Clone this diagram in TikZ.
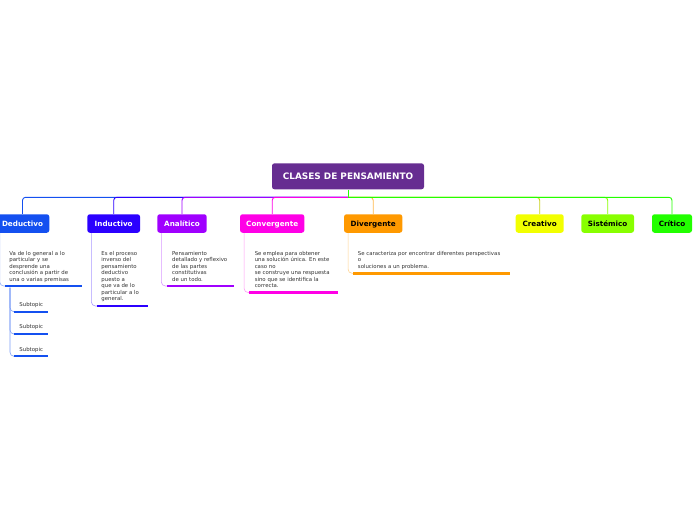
\documentclass[tikz,border=0pt]{standalone}
\usepackage{fontspec}
\setmainfont{DejaVu Sans}
\usetikzlibrary{positioning}

\definecolor{cRoot}{HTML}{662D91}
\definecolor{cDed}{HTML}{1450F0}
\definecolor{cInd}{HTML}{2B00FF}
\definecolor{cAna}{HTML}{A000FF}
\definecolor{cCon}{HTML}{FF00E6}
\definecolor{cDiv}{HTML}{FF9900}
\definecolor{cCre}{HTML}{F2FF00}
\definecolor{cSis}{HTML}{88FF00}
\definecolor{cCri}{HTML}{22FF00}

\begin{document}
\begin{tikzpicture}[x=1pt,y=-1pt,line width=0.9pt]
\tikzstyle{every node}=[inner sep=0pt]
\tikzstyle{topic}=[rounded corners=2.5pt,minimum height=18.5pt,text height=5.2pt,text depth=0pt,font=\fontsize{7.2}{8}\selectfont\bfseries,text=white]
\tikzstyle{note}=[anchor=north west,align=left,font=\fontsize{5.4}{6.5}\selectfont,text=black!80]
\tikzstyle{bar}=[line width=2.8pt]
\tikzstyle{stem}=[line width=0.6pt,rounded corners=4pt]
\tikzstyle{link}=[rounded corners=3pt]

\useasboundingbox (0,0) rectangle (696,520);

% main topic and the bus under it
\node[topic,fill=cRoot,minimum width=152pt,minimum height=26pt,text height=6.4pt,font=\fontsize{8.9}{10}\selectfont\bfseries] (CP) at (348,176.3) {CLASES DE PENSAMIENTO};
\coordinate (bus) at (348,197.3);

% the eight kinds
\node[topic,fill=cDed,minimum width=53.6pt] (DED) at (22.5,223.5) {Deductivo};
\node[topic,fill=cInd,minimum width=52.7pt] (IND) at (113.7,223.5) {Inductivo};
\node[topic,fill=cAna,minimum width=49.4pt] (ANA) at (182,223.5) {Analítico};
\node[topic,fill=cCon,minimum width=64.3pt] (CON) at (272.2,223.5) {Convergente};
\node[topic,fill=cDiv,text=black,minimum width=58.3pt] (DIV) at (373.2,223.5) {Divergente};
\node[topic,fill=cCre,text=black,minimum width=48pt] (CRE) at (539.7,223.5) {Creativo};
\node[topic,fill=cSis,text=black,minimum width=52.7pt] (SIS) at (607.7,223.5) {Sistémico};
\node[topic,fill=cCri,text=black,minimum width=40pt] (CRI) at (672,223.5) {Crítico};

\draw[cCri] (CP.south) -- (bus);
\draw[link,cDed] (bus) -| (DED.north);
\draw[link,cInd] (bus) -| (IND.north);
\draw[link,cAna] (bus) -| (ANA.north);
\draw[link,cCon] (bus) -| (CON.north);
\draw[link,cDiv!70] (bus) -| (DIV.north);
\draw[link,cCre!80!black!90] (bus) -| (CRE.north);
\draw[link,cSis] (bus) -| (SIS.north);
\draw[link,cCri] (bus) -| (CRI.north);

% notes under the kinds
\node[note] (DEDt) at (9,250.8) {Va de lo general a lo\\particular y se\\desprende una\\conclusión a partir de\\una o varias premisas};
\coordinate (DEDl) at (5,286); \coordinate (DEDr) at (82,286);
\draw[stem,cDed!45] ([xshift=4.5pt]DED.south west) |- (DEDl);
\draw[bar,cDed] (DEDl) -- (DEDr);

\node[note] (INDt) at (101,250.8) {Es el proceso\\inverso del\\pensamiento\\deductivo\\puesto a\\que va de lo\\particular a lo\\general.};
\coordinate (INDl) at (97,306); \coordinate (INDr) at (148,306);
\draw[stem,cInd!40] ([xshift=4.5pt]IND.south west) |- (INDl);
\draw[bar,cInd] (INDl) -- (INDr);

\node[note] (ANAt) at (171.7,250.8) {Pensamiento\\detallado y reflexivo\\de las partes\\constitutivas\\de un todo.};
\coordinate (ANAl) at (167,286); \coordinate (ANAr) at (234,286);
\draw[stem,cAna!40] ([xshift=4.5pt]ANA.south west) |- (ANAl);
\draw[bar,cAna] (ANAl) -- (ANAr);

\node[note] (CONt) at (254.3,250.8) {Se emplea para obtener\\una solución única. En este\\caso no\\se construye una respuesta\\sino que se identifica la\\correcta.};
\coordinate (CONl) at (249,292.5); \coordinate (CONr) at (338.3,292.5);
\draw[stem,cCon!40] ([xshift=4.5pt]CON.south west) |- (CONl);
\draw[bar,cCon] (CONl) -- (CONr);

\node[note] (DIVt) at (357.5,250.8) {Se caracteriza por encontrar diferentes perspectivas\\o\\soluciones a un problema.};
\coordinate (DIVl) at (353,273.3); \coordinate (DIVr) at (510,273.3);
\draw[stem,cDiv!45] ([xshift=4.5pt]DIV.south west) |- (DIVl);
\draw[bar,cDiv] (DIVl) -- (DIVr);

% subtopics of Deductivo
\coordinate (STa) at (10,287.5);
\node[note] (ST1) at (19,302) {Subtopic};
\node[note] (ST2) at (19,324.3) {Subtopic};
\node[note] (ST3) at (19,346.6) {Subtopic};
\coordinate (ST1l) at (13.5,311.7); \coordinate (ST1r) at (48,311.7);
\coordinate (ST2l) at (13.5,334); \coordinate (ST2r) at (48,334);
\coordinate (ST3l) at (13.5,356.3); \coordinate (ST3r) at (48,356.3);
\draw[stem,cDed!55] (STa) |- (ST1l);
\draw[stem,cDed!55] (STa) |- (ST2l);
\draw[stem,cDed!55] (STa) |- (ST3l);
\draw[bar,line width=2pt,cDed] (ST1l) -- (ST1r);
\draw[bar,line width=2pt,cDed] (ST2l) -- (ST2r);
\draw[bar,line width=2pt,cDed] (ST3l) -- (ST3r);
\end{tikzpicture}
\end{document}
